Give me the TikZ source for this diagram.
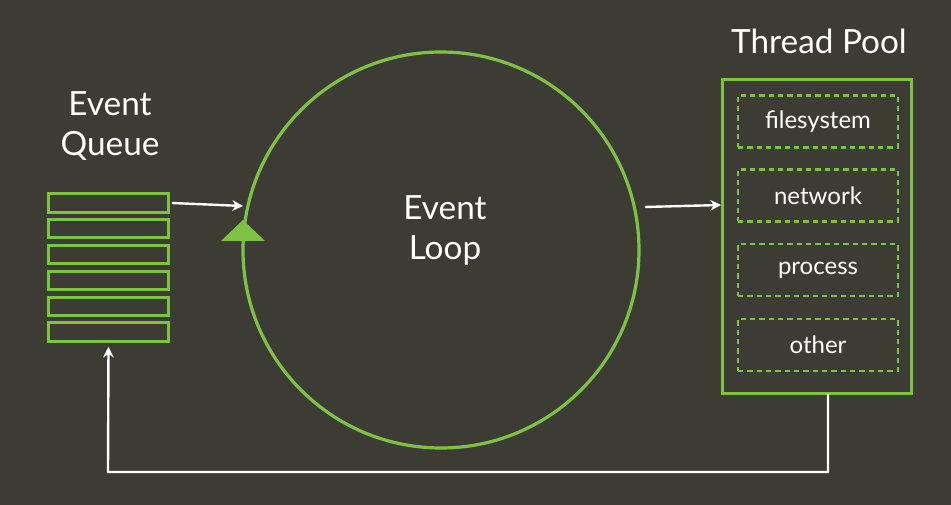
\documentclass[tikz,border=0pt]{standalone}
\usepackage{fontspec}
\setmainfont{Lato}
\usetikzlibrary{arrows.meta}
\definecolor{bg}{HTML}{3C3C35}
\definecolor{grn}{HTML}{7DC242}
\begin{document}
\begin{tikzpicture}[x=0.75pt,y=-0.75pt,
  slot/.style={draw=grn,line width=2.2pt,minimum width=90pt,minimum height=14pt,inner sep=0pt},
  worker/.style={draw=grn,line width=1.6pt,dash pattern=on 4pt off 3pt,minimum width=120pt,minimum height=39pt,inner sep=0pt,text=white,font=\fontsize{18}{21}\selectfont},
  lbl/.style={text=white,font=\fontsize{25}{30}\selectfont,align=center},
  arr/.style={white,line width=1.8pt,-{Stealth[length=8pt,width=8pt]}}]
\fill[bg] (0,0) rectangle (951,505);
\useasboundingbox (0,0) rectangle (951,505);
\node[draw=grn,line width=2.4pt,circle,minimum size=297pt,inner sep=0pt] (loop) at (441,250) {};
\node[lbl] (looplbl) at (445,230) {Event\\Loop};
\foreach \i/\y in {1/203,2/228.5,3/254.5,4/280.5,5/306.5,6/332}
  \node[slot] (q\i) at (108.5,\y) {};
\node[lbl] (qlbl) at (110,126) {Event\\Queue};
\node[draw=grn,line width=2.4pt,minimum width=142pt,minimum height=235pt,inner sep=0pt] (pool) at (817,236.5) {};
\node[lbl] (plbl) at (819,41) {Thread Pool};
\node[worker] (w1) at (818,121.5) {filesystem};
\node[worker] (w2) at (818,195.5) {network};
\node[worker] (w3) at (818,270) {process};
\node[worker] (w4) at (818,345) {other};
\fill[grn] (221,241) -- (265,241) -- (243,220) -- cycle;
\coordinate (a1) at (243,206);
\draw[arr] (q1.east) ++(2,0) -- (a1);
\coordinate (b0) at (645,207);
\coordinate (b1) at (721,205);
\draw[arr] (b0) -- (b1);
\coordinate (c0) at (828,394);
\coordinate (c1) at (828,472);
\coordinate (c2) at (108,472);
\draw[arr] (c0) -- (c1) -- (c2) -- ([yshift=-3pt]q6.south);
\end{tikzpicture}
\end{document}
